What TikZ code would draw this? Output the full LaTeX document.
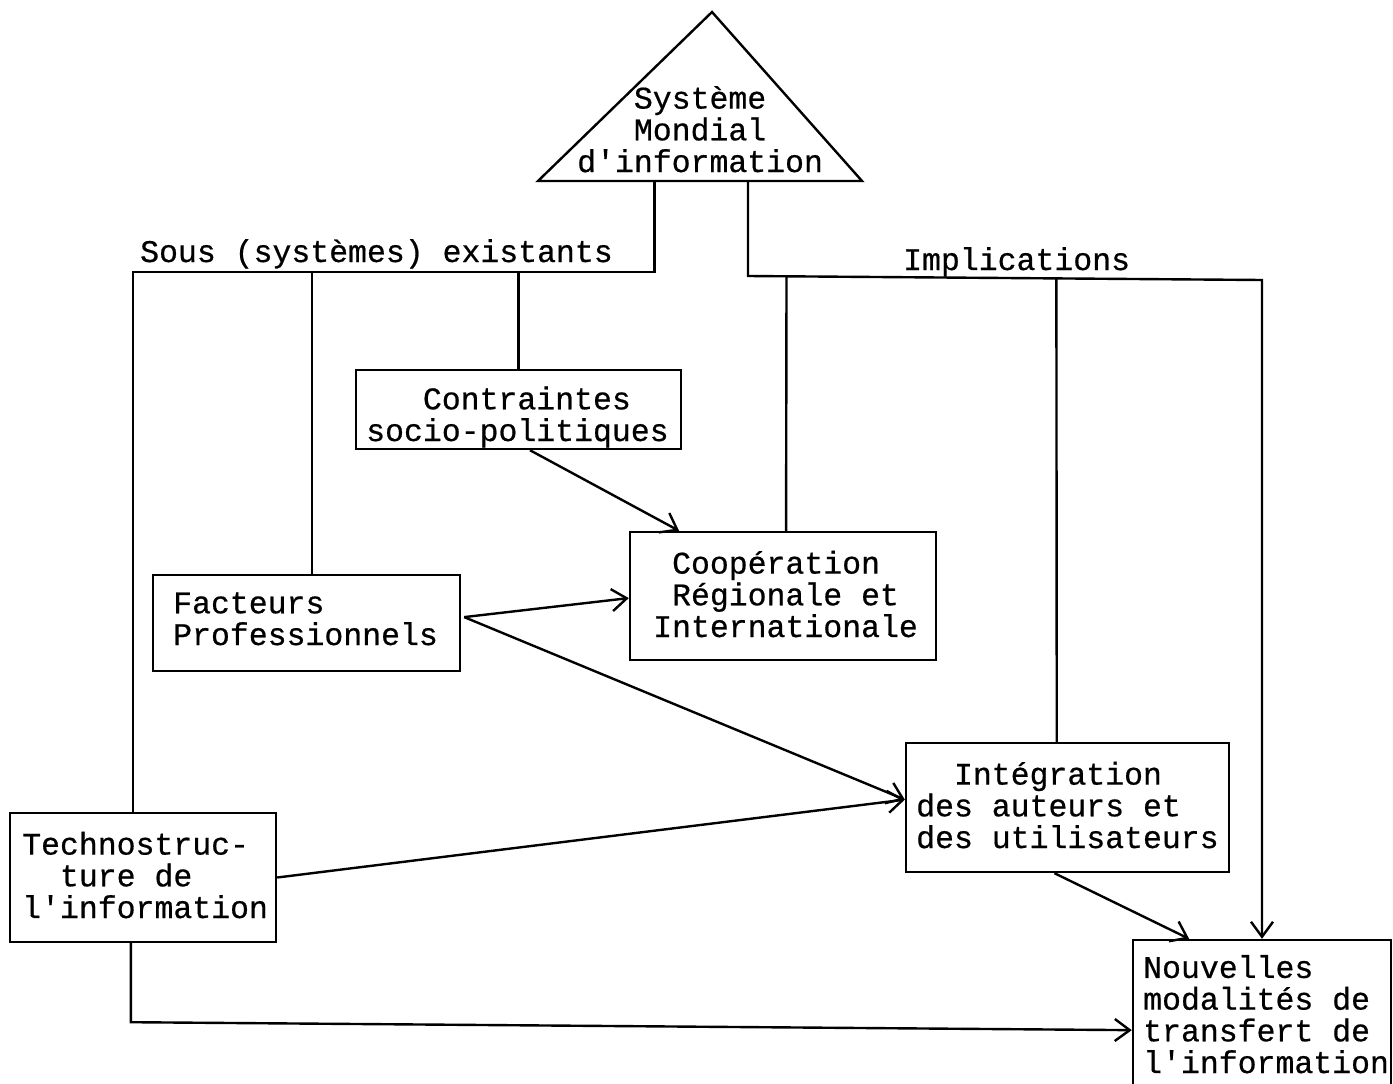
\documentclass[tikz,border=0pt]{standalone}
\usepackage{fontspec}
\newfontfamily\typew[WordSpace={1,0,0},FakeBold=0.6]{Liberation Mono}
\usetikzlibrary{arrows.meta,calc}

\begin{document}
\begin{tikzpicture}[x=1pt,y=-1pt,
  every node/.style={font=\typew\fontsize{31.5}{31.7}\selectfont},
  wire/.style={line width=2.4pt},
  flow/.style={line width=2.4pt,-{Straight Barb[length=15pt,width=22pt]}},
  frame/.style={draw,line width=2.4pt,inner sep=0pt},
  txt/.style={inner sep=0pt,align=flush left,anchor=base west}]

% page and margins
\fill[white] (0,0) rectangle (1393,1084);
\useasboundingbox (0,0) rectangle (1393,1084);

% top triangle: the world information system
\coordinate (apex) at (712,12);
\coordinate (bl) at (538,181);
\coordinate (br) at (862,181);
\draw[line width=2.4pt,line join=miter] (apex) -- (bl) -- (br) -- cycle;
% multi-line texts are placed by the baseline of their last line
\node[txt] (sys) at (577,172)
  {\hphantom{xxx}Système\\\hphantom{xxx}Mondial\\d'information};
\coordinate (sysL) at ($(bl)!0.360!(br)$);
\coordinate (sysR) at ($(bl)!0.648!(br)$);

% box frames
\node[frame,minimum width=325,minimum height=79]  (contr) at (518.5,409.5) {};
\node[frame,minimum width=306,minimum height=128] (coop)  at (783,596) {};
\node[frame,minimum width=307,minimum height=96]  (fact)  at (306.5,623) {};
\node[frame,minimum width=323,minimum height=129] (integ) at (1067.5,807.5) {};
\node[frame,minimum width=266,minimum height=129] (tech)  at (143,877.5) {};
\node[frame,minimum width=258,minimum height=160] (nouv)  at (1262,1020) {};

% box texts (typewritten, indented with blanks)
\node[txt] (contrT) at (366,441) {\hphantom{xxx}Contraintes\\socio-politiques};
\node[txt] (coopT)  at (653,637) {\hphantom{x}Coopération\\\hphantom{x}Régionale et\\Internationale};
\node[txt] (factT)  at (173,645) {Facteurs\\Professionnels};
\node[txt] (integT) at (916,848) {\hphantom{xx}Intégration\\des auteurs et\\des utilisateurs};
\node[txt] (techT)  at (22,918)  {Technostruc-\\\hphantom{xx}ture de\\l'information};
\node[txt] (nouvT)  at (1143,1073) {Nouvelles\\modalités de\\transfert de\\l'information};

% labels on the two branches
\node[txt] (sous) at (140,262) {Sous (systèmes) existants};
\node[txt] (impl) at (903,270) {Implications};

% left branch: existing sub-systems
\coordinate (sL1) at ($(sysL)+(0,91)$);
\coordinate (sL2) at ($(tech.north west)!0.462!(tech.north east)$);
\draw[wire] (sysL) -- (sL1) -- (sL1 -| sL2) -- (sL2);
\coordinate (fTop) at ($(fact.north west)!0.518!(fact.north east)$);
\draw[wire] (fTop |- sL1) -- (fTop);
\coordinate (cTop) at ($(contr.north west)!0.500!(contr.north east)$);
\draw[wire] (cTop |- sL1) -- (cTop);

% right branch: implications
\coordinate (sR1) at ($(sysR)+(0,95)$);
\coordinate (nTop) at ($(nouv.north west)!0.500!(nouv.north east)$);
\coordinate (sR2) at (nTop |- 0,280);
\draw[flow] (sysR) -- (sR1) -- (sR2) -- (nTop);
\coordinate (coTop) at ($(coop.north west)!0.510!(coop.north east)$);
\draw[wire] ($(sR1)!0.075!(sR2)$) -- (coTop);
\coordinate (iTop) at ($(integ.north west)!0.467!(integ.north east)$);
\draw[wire] ($(sR1)!0.600!(sR2)$) -- (iTop);

% influences between the boxes
\draw[flow] ($(contr.south west)!0.535!(contr.south east)$)
  -- ($(coop.north west)!0.163!(coop.north east)$);
\coordinate (fOut) at ($(fact.north east)!0.44!(fact.south east)+(3,0)$);
\draw[flow] (fOut) -- ($(coop.north west)!0.516!(coop.south west)$);
\draw[flow] (fOut) -- ($(integ.north west)!0.44!(integ.south west)$);
\draw[flow] (tech.east) -- ($(integ.north west)!0.44!(integ.south west)$);
\draw[flow] ($(integ.south west)!0.46!(integ.south east)$)
  -- ($(nouv.north west)!0.22!(nouv.north east)$);

% technostructure feeds the new transfer modes directly
\coordinate (tBot) at ($(tech.south west)!0.455!(tech.south east)$);
\coordinate (tCorner) at ($(tBot)+(0,79)$);
\draw[flow] (tBot) -- (tCorner) -- ($(nouv.north west)!0.5625!(nouv.south west)$);
\end{tikzpicture}
\end{document}
